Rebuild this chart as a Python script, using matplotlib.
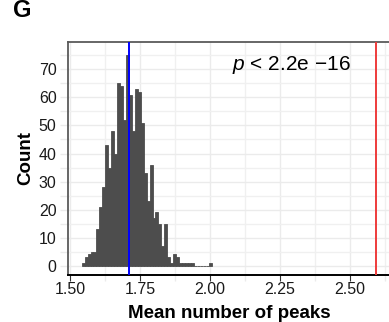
import numpy as np
import matplotlib
matplotlib.use("Agg")
import matplotlib.pyplot as plt
from matplotlib.ticker import MultipleLocator

plt.rcParams['font.family'] = ['Liberation Sans', 'DejaVu Sans']
plt.rcParams['mathtext.fontset'] = 'custom'
plt.rcParams['mathtext.it'] = 'Liberation Sans:italic'
plt.rcParams['mathtext.rm'] = 'Liberation Sans'

# histogram of permuted means (bin counts)
bin_first = 1.5417
bin_width = 0.01054
counts = [1, 3, 4, 5, 5, 13, 21, 28, 43, 35, 48, 40, 65, 64, 52,
          75, 61, 48, 63, 62, 51, 33, 23, 36, 17, 19, 15, 7, 15, 3,
          1, 4, 3, 1, 1, 1, 1, 1, 0, 0, 0, 0, 0, 1]
bin_left = bin_first + bin_width * np.arange(len(counts))

perm_mean = 1.7096      # blue line
observed = 2.592        # red line
p_label = r'$p$ < 2.2e −16'

x_ticks = [1.50, 1.75, 2.00, 2.25, 2.50]
x_ticklabels = ['1.50', '1.75', '2.00', '2.25', '2.50']
y_ticks = [0, 10, 20, 30, 40, 50, 60, 70]

W, H = 389, 322
fig = plt.figure(figsize=(W / 100, H / 100), dpi=100)
ax = fig.add_axes([67.7 / W, (H - 275.3) / H, 322.9 / W, 233.3 / H])

ax.bar(bin_left, counts, width=bin_width, align='edge',
       color='#4D4D4D', edgecolor='#4D4D4D', linewidth=0.6, zorder=2)
ax.axvline(perm_mean, color='#0000FF', lw=1.4, zorder=3)
ax.axvline(observed, color='#EE3B3B', lw=1.4, zorder=3)

ax.set_xlim(1.4918, 2.645)
ax.set_ylim(-3.42, 79.75)

ax.set_xticks(x_ticks)
ax.set_xticklabels(x_ticklabels)
ax.set_yticks(y_ticks)
ax.xaxis.set_minor_locator(MultipleLocator(0.125))
ax.yaxis.set_minor_locator(MultipleLocator(5))

ax.grid(which='major', color='#EBEBEB', lw=1.0, zorder=0)
ax.grid(which='minor', color='#F0F0F0', lw=1.0, zorder=0)
ax.set_axisbelow(True)

ax.tick_params(axis='x', which='major', length=4, width=0.8, color='#333333',
               pad=0.5, labelsize=11.5, labelcolor='#1A1A1A')
ax.tick_params(axis='x', which='minor', length=4, width=1.0, color='#EBEBEB')
ax.tick_params(axis='y', which='both', length=6, width=1.0, color='#EBEBEB',
               pad=2, labelsize=11.5, labelcolor='#1A1A1A')

for side in ['top', 'left', 'right']:
    ax.spines[side].set_color('#5A5A5A')
    ax.spines[side].set_linewidth(1.3)
ax.spines['bottom'].set_color('black')
ax.spines['bottom'].set_linewidth(1.4)

ax.text(2.291, 71.5, p_label, fontsize=15, ha='center', va='center')

fig.text(229 / W, (H - 318.5) / H, 'Mean number of peaks', fontsize=13.5,
         fontweight='bold', ha='center', va='baseline')
fig.text(26 / W, (H - 158) / H, 'Count', fontsize=13.5, fontweight='bold',
         rotation=90, ha='center', va='center')
fig.text(13 / W, (H - 17) / H, 'G', fontsize=17, fontweight='bold',
         ha='left', va='baseline')

fig.savefig('out.png', dpi=100)
